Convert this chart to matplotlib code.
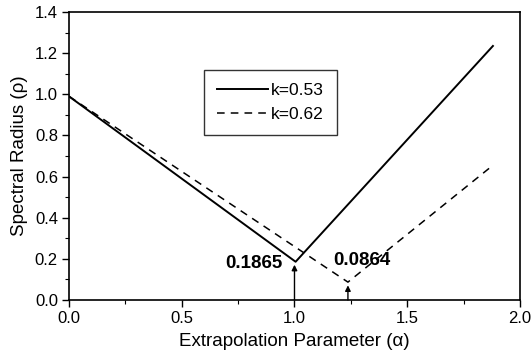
import matplotlib
matplotlib.use("Agg")
import matplotlib.pyplot as plt
from matplotlib.ticker import MultipleLocator, FormatStrFormatter

plt.rcParams['font.family'] = ['Liberation Sans', 'DejaVu Sans']

# data
alpha_k053 = [0.0, 1.005, 1.88]
rho_k053 = [0.99, 0.186, 1.235]
alpha_k062 = [0.0, 1.237, 1.88]
rho_k062 = [0.99, 0.087, 0.655]
labels = ['k=0.53', 'k=0.62']
opt_alpha = [1.0, 1.237]
opt_rho = [0.1865, 0.0864]
opt_text = ['0.1865', '0.0864']

fig = plt.figure(figsize=(5.32, 3.59), dpi=100)
ax = fig.add_axes([0.1297, 0.1643, 0.8477, 0.8022])

ax.plot(alpha_k053, rho_k053, color='black', lw=1.4, ls='-', label=labels[0])
ax.plot(alpha_k062, rho_k062, color='black', lw=1.1, ls=(0, (5, 4)), label=labels[1])

# arrows marking the minima
for a, r in zip(opt_alpha, opt_rho):
    ax.annotate('', xy=(a, r - 0.015), xytext=(a, 0.0),
                arrowprops=dict(arrowstyle='-|>', color='black', lw=1.0,
                                mutation_scale=8, shrinkA=0, shrinkB=0))
ax.text(0.945, 0.177, opt_text[0], ha='right', va='center',
        fontsize=13.5, fontweight='bold')
ax.text(1.17, 0.19, opt_text[1], ha='left', va='center',
        fontsize=13.5, fontweight='bold')

ax.set_xlim(0, 2.0)
ax.set_ylim(0, 1.4)
ax.xaxis.set_major_locator(MultipleLocator(0.5))
ax.xaxis.set_minor_locator(MultipleLocator(0.25))
ax.yaxis.set_major_locator(MultipleLocator(0.2))
ax.yaxis.set_minor_locator(MultipleLocator(0.1))
ax.xaxis.set_major_formatter(FormatStrFormatter('%.1f'))
ax.yaxis.set_major_formatter(FormatStrFormatter('%.1f'))
ax.tick_params(which='major', direction='out', length=5, width=1, labelsize=12, pad=3)
ax.tick_params(which='minor', direction='out', length=3, width=0.8)
for s in ax.spines.values():
    s.set_linewidth(1.2)

ax.set_xlabel('Extrapolation Parameter (\u03b1)', fontsize=13.5, labelpad=5)
ax.set_ylabel('Spectral Radius (\u03c1)', fontsize=13.5, labelpad=5)

leg = ax.legend(loc='upper left', bbox_to_anchor=(0.30, 0.80), fontsize=12.5,
                frameon=True, fancybox=False, edgecolor='black',
                handlelength=2.9, borderpad=0.75, labelspacing=0.5,
                handletextpad=0.2, borderaxespad=0)
leg.get_frame().set_linewidth(1.0)

fig.savefig('out.png', dpi=100)
